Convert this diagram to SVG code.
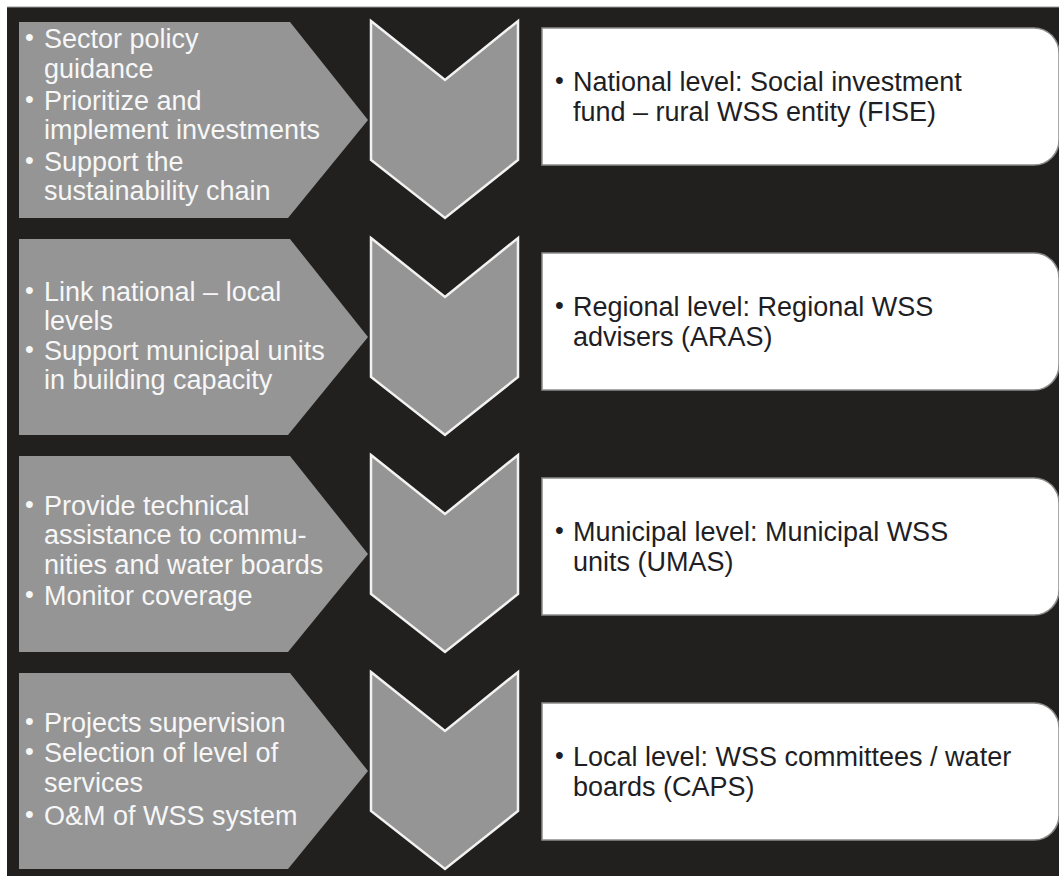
<svg xmlns="http://www.w3.org/2000/svg" width="1059" height="876" viewBox="0 0 1059 876">
<defs>
<style>
.bg{fill:#21201e}
.pent{fill:#959595}
.chev{fill:#959595;stroke:#f2f2f2;stroke-width:2.5;stroke-linejoin:miter}
.box{fill:#ffffff;stroke:#8c8c8c;stroke-width:1.5}
.lt{font-family:"Liberation Sans",Arial,sans-serif;font-size:27px;fill:#f7f7f7}
.rt{font-family:"Liberation Sans",Arial,sans-serif;font-size:27px;fill:#1e1e24}
.bl{font-family:"Liberation Sans",Arial,sans-serif;font-size:25px}
</style>
<polygon id="pentShape" class="pent" points="19,22 290,22 368,120 288,218 19,218"/>
<polygon id="chevShape" class="chev" points="371,21 445,80 518,21 518,160 445,218 371,160"/>
<path id="boxShape" class="box" d="M542,0 H1034 A25,25 0 0 1 1059,25 V112 A25,25 0 0 1 1034,137 H542 Z"/>
</defs>
<rect x="0" y="0" width="1059" height="876" fill="#ffffff"/>
<rect class="bg" x="7" y="7" width="1052" height="869"/>
<line x1="7" y1="7" x2="1059" y2="7" stroke="#9a9a9a" stroke-width="1"/>

<g id="row1-left">
<use href="#pentShape"/>
<text class="lt" x="44"><tspan x="44" y="48">Sector policy</tspan><tspan x="44" y="78">guidance</tspan><tspan x="44" y="110">Prioritize and</tspan><tspan x="44" y="139">implement investments</tspan><tspan x="44" y="171">Support the</tspan><tspan x="44" y="200">sustainability chain</tspan></text>
<text class="lt bl" x="25"><tspan x="25" y="46">•</tspan><tspan x="25" y="108">•</tspan><tspan x="25" y="169">•</tspan></text>
</g>
<g id="row1-chevron"><use href="#chevShape"/></g>
<g id="row1-box">
<use href="#boxShape" y="28"/>
<text class="rt bl" x="555" y="89">•</text>
<text class="rt"><tspan x="573" y="91">National level: Social investment</tspan><tspan x="573" y="121">fund – rural WSS entity (FISE)</tspan></text>
</g>

<g id="row2-left">
<use href="#pentShape" y="217"/>
<text class="lt"><tspan x="44" y="301">Link national – local</tspan><tspan x="44" y="330">levels</tspan><tspan x="44" y="360">Support municipal units</tspan><tspan x="44" y="389">in building capacity</tspan></text>
<text class="lt bl"><tspan x="25" y="299">•</tspan><tspan x="25" y="358">•</tspan></text>
</g>
<g id="row2-chevron"><use href="#chevShape" y="217"/></g>
<g id="row2-box">
<use href="#boxShape" y="253"/>
<text class="rt bl" x="555" y="314">•</text>
<text class="rt"><tspan x="573" y="316">Regional level: Regional WSS</tspan><tspan x="573" y="346">advisers (ARAS)</tspan></text>
</g>

<g id="row3-left">
<use href="#pentShape" y="434"/>
<text class="lt"><tspan x="44" y="515">Provide technical</tspan><tspan x="44" y="544">assistance to commu-</tspan><tspan x="44" y="574">nities and water boards</tspan><tspan x="44" y="605">Monitor coverage</tspan></text>
<text class="lt bl"><tspan x="25" y="513">•</tspan><tspan x="25" y="603">•</tspan></text>
</g>
<g id="row3-chevron"><use href="#chevShape" y="434"/></g>
<g id="row3-box">
<use href="#boxShape" y="478"/>
<text class="rt bl" x="555" y="539">•</text>
<text class="rt"><tspan x="573" y="541">Municipal level: Municipal WSS</tspan><tspan x="573" y="571">units (UMAS)</tspan></text>
</g>

<g id="row4-left">
<use href="#pentShape" y="651"/>
<text class="lt"><tspan x="44" y="732">Projects supervision</tspan><tspan x="44" y="762">Selection of level of</tspan><tspan x="44" y="792">services</tspan><tspan x="44" y="825">O&amp;M of WSS system</tspan></text>
<text class="lt bl"><tspan x="25" y="730">•</tspan><tspan x="25" y="760">•</tspan><tspan x="25" y="823">•</tspan></text>
</g>
<g id="row4-chevron"><use href="#chevShape" y="651"/></g>
<g id="row4-box">
<use href="#boxShape" y="703"/>
<text class="rt bl" x="555" y="764">•</text>
<text class="rt"><tspan x="573" y="766">Local level: WSS committees / water</tspan><tspan x="573" y="796">boards (CAPS)</tspan></text>
</g>

<g id="connectors"></g>
</svg>
